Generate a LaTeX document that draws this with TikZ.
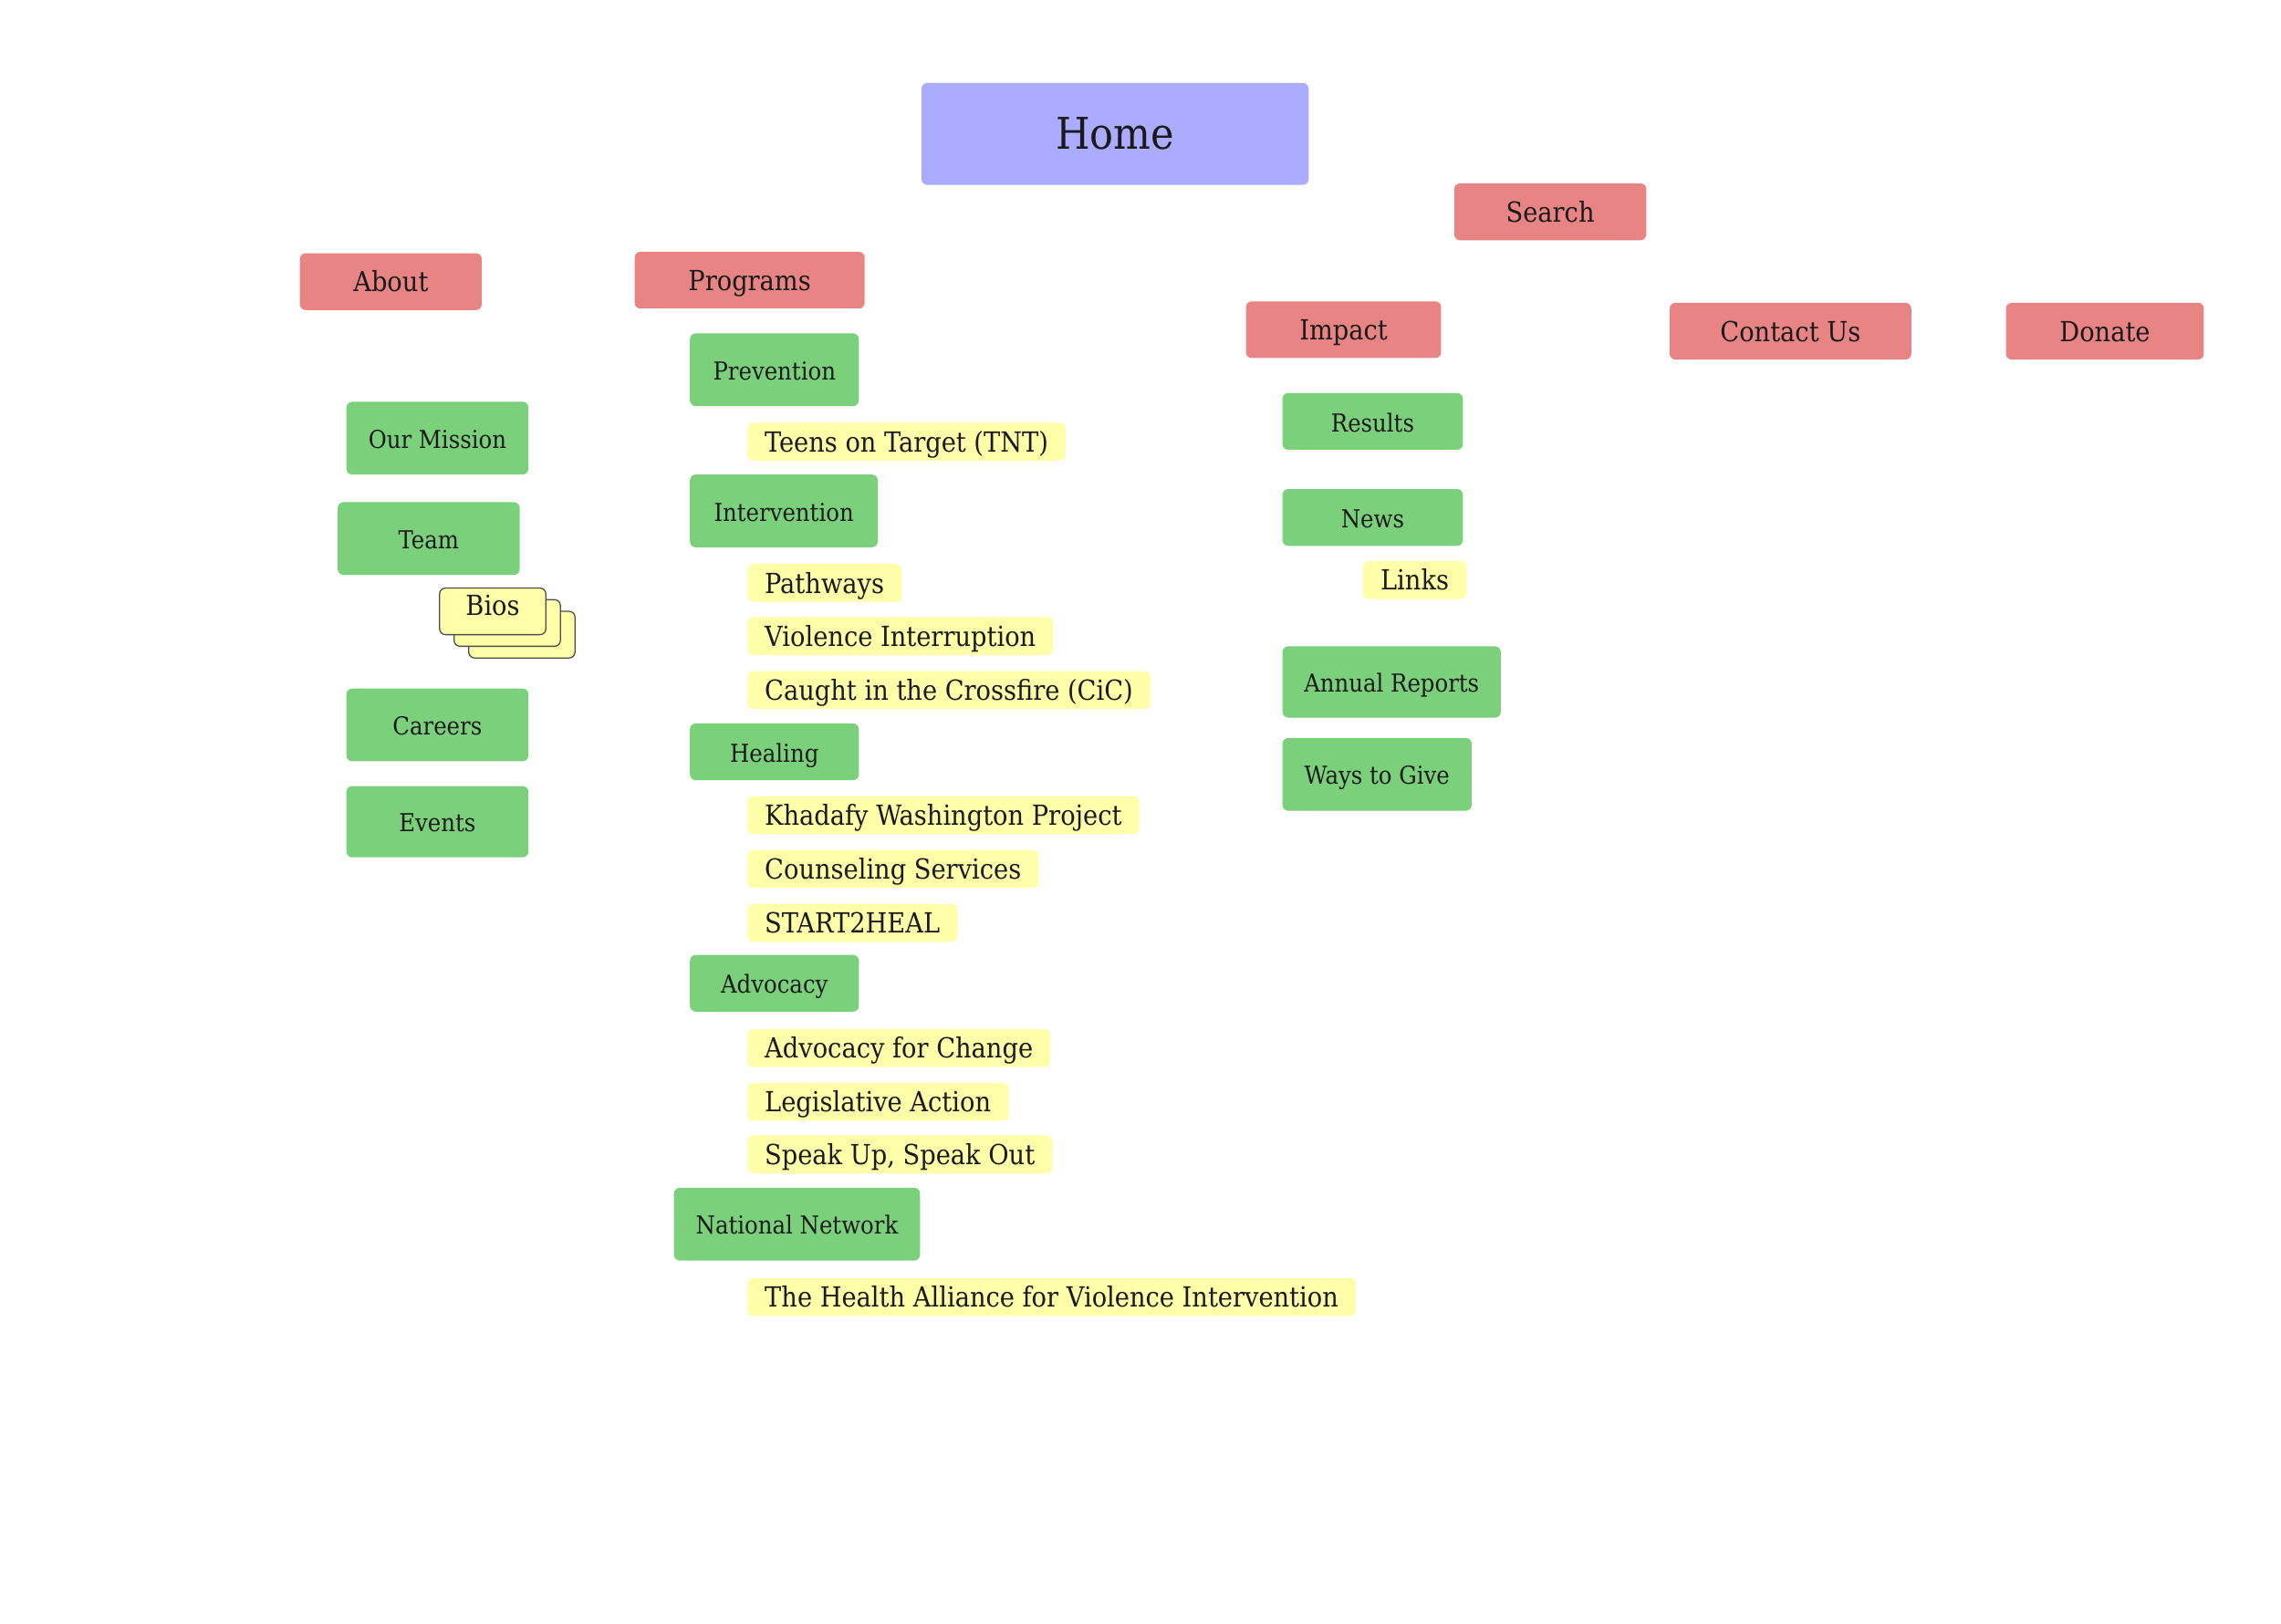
\documentclass[tikz,border=0pt]{standalone}
\usepackage{fontspec}
\setmainfont{DejaVu Serif Condensed}
\usepackage{xcolor}

\definecolor{homeblue}{HTML}{ABABFF}
\definecolor{navred}{HTML}{E88484}
\definecolor{pagegreen}{HTML}{7BD07B}
\definecolor{notecream}{HTML}{FFFFAA}
\definecolor{inkdark}{HTML}{1A1A1A}

\tikzset{
  homebox/.style={fill=homeblue, rounded corners=2pt, text=inkdark,
    font=\fontsize{15}{18}\selectfont, minimum width=133pt, minimum height=35pt},
  navbox/.style={fill=navred, rounded corners=2pt, text=inkdark,
    font=\fontsize{9.5}{11}\selectfont, text height=0.8em, text depth=0.1em, minimum height=19.5pt},
  pagebox/.style={fill=pagegreen, rounded corners=2pt, text=inkdark,
    font=\fontsize{8.5}{10}\selectfont, text height=0.8em, text depth=0.1em, minimum height=25pt},
  notebox/.style={fill=notecream, rounded corners=2pt, text=inkdark, anchor=west,
    font=\fontsize{9.5}{11}\selectfont, text height=0.8em, text depth=0.1em,
    inner xsep=6pt, inner ysep=1pt, minimum height=13pt},
  stackcard/.style={fill=notecream, draw=black!70, line width=0.4pt, rounded corners=2pt}
}

\begin{document}
\begin{tikzpicture}[x=0.5pt, y=-0.5pt]
    \useasboundingbox (0,0) rectangle (1567,1115.1);

    % Top level
    \node[homebox] (home) at (766,92) {Home};
    \node[navbox, minimum width=66pt] (search) at (1065,145.5) {Search};
    \node[navbox, minimum width=62.5pt] (about) at (268.5,193.5) {About};
    \node[navbox, minimum width=79pt] (programs) at (515,192.5) {Programs};
    \node[navbox, minimum width=67pt] (impact) at (923,226.5) {Impact};
    \node[navbox, minimum width=83pt] (contact) at (1230,227.5) {Contact Us};
    \node[navbox, minimum width=68pt] (donate) at (1446,227.5) {Donate};

    % About pages
    \node[pagebox, minimum width=62.5pt] (mission) at (300.5,301) {Our Mission};
    \node[pagebox, minimum width=62.5pt] (team) at (294.5,370) {Team};
    \node[pagebox, minimum width=62.5pt] (careers) at (300.5,498) {Careers};
    \node[pagebox, minimum width=62.5pt, minimum height=24.5pt] (events) at (300.5,564.5) {Events};

    % Bios stack
    \draw[stackcard] (322,420) rectangle (395,452);
    \draw[stackcard] (312,412) rectangle (385,444);
    \draw[stackcard] (302,404) rectangle (375,436);
    \node[font=\fontsize{9.5}{11}\selectfont, text=inkdark] (bios) at (338.5,416) {Bios};

    % Programs pages
    \node[pagebox, minimum width=58pt] (prevention) at (532,254) {Prevention};
    \node[notebox] (tnt) at (513,303.5) {Teens on Target (TNT)};
    \node[pagebox, minimum width=64.5pt] (intervention) at (538.5,351) {Intervention};
    \node[notebox] (pathways) at (513,400.5) {Pathways};
    \node[notebox] (interrupt) at (513,437) {Violence Interruption};
    \node[notebox] (cic) at (513,474) {Caught in the Crossfire (CiC)};
    \node[pagebox, minimum width=58pt, minimum height=19.5pt] (healing) at (532,516.5) {Healing};
    \node[notebox] (khadafy) at (513,560) {Khadafy Washington Project};
    \node[notebox] (counseling) at (513,597) {Counseling Services};
    \node[notebox] (startheal) at (513,634) {START2HEAL};
    \node[pagebox, minimum width=58pt, minimum height=19.5pt] (advocacy) at (532,675.5) {Advocacy};
    \node[notebox] (change) at (513,720) {Advocacy for Change};
    \node[notebox] (legislative) at (513,757) {Legislative Action};
    \node[notebox] (speakup) at (513,793) {Speak Up, Speak Out};
    \node[pagebox, minimum width=84.5pt] (network) at (547.5,841) {National Network};
    \node[notebox] (alliance) at (513,891) {The Health Alliance for Violence Intervention};

    % Impact pages
    \node[pagebox, minimum width=62pt, minimum height=19.5pt] (results) at (943,289.5) {Results};
    \node[pagebox, minimum width=62pt, minimum height=19.5pt] (news) at (943,355.5) {News};
    \node[notebox] (links) at (936,398.5) {Links};
    \node[pagebox, minimum width=75pt, minimum height=24.5pt] (reports) at (956,468.5) {Annual Reports};
    \node[pagebox, minimum width=65pt] (give) at (946,532) {Ways to Give};
\end{tikzpicture}
\end{document}
